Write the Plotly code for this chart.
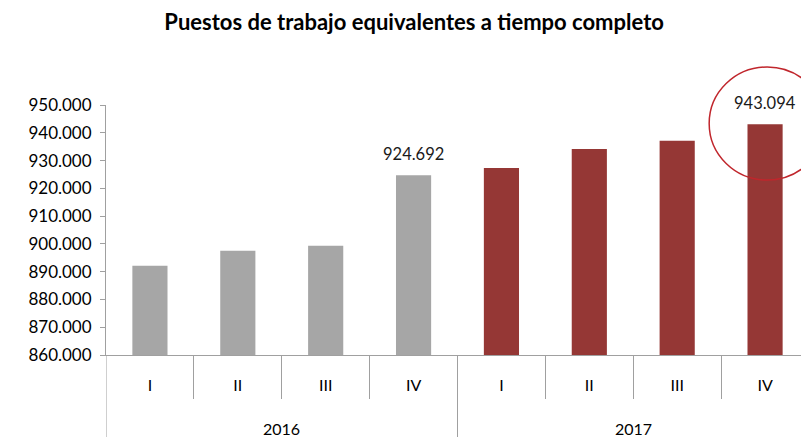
import plotly.graph_objects as go

# datos (puestos equivalentes a tiempo completo)
years = ["2016", "2016", "2016", "2016", "2017", "2017", "2017", "2017"]
quarters = ["I", "II", "III", "IV", "I", "II", "III", "IV"]
values = [892100, 897500, 899300, 924692, 927300, 934200, 937100, 943094]
labeled = [3, 7]  # barras con etiqueta de dato

color_2016 = "#A6A6A6"
color_2017 = "#953735"
axis_color = "#A0A0A0"
FONT = "Lato"

pos = list(range(len(values)))
colors = [color_2016 if y == "2016" else color_2017 for y in years]

fig = go.Figure(
    go.Bar(
        x=pos,
        y=values,
        width=0.4,
        marker=dict(color=colors, line=dict(width=0)),
        hoverinfo="skip",
    )
)

# etiquetas de dato
for i in labeled:
    fig.add_annotation(
        x=pos[i], y=values[i], xref="x", yref="y",
        text=f"{values[i]:,.0f}".replace(",", "."),
        showarrow=False, yanchor="bottom", yshift=9,
        font=dict(family=FONT, size=16.5, color="#1a1a1a"),
    )

# segundo nivel del eje: años y separadores
unique_years = list(dict.fromkeys(years))
for yr in unique_years:
    idx = [i for i, y in enumerate(years) if y == yr]
    fig.add_annotation(
        x=sum(idx) / len(idx), y=-0.292, xref="x", yref="paper",
        text=yr, showarrow=False, yanchor="middle",
        font=dict(family=FONT, size=16, color="black"),
    )
bounds = [-0.5] + [i + 0.5 for i in range(len(years) - 1) if years[i] != years[i + 1]] + [len(years) - 0.5]
for b in bounds:
    fig.add_shape(type="line", xref="x", yref="paper", x0=b, x1=b, y0=0, y1=-0.34,
                  line=dict(color=axis_color, width=1))

fig.add_shape(type="circle", xref="paper", yref="paper",
              x0=0.858, x1=1.023, y0=0.70, y1=1.152,
              line=dict(color="#C0262C", width=1.5))

# la página añade 8 px de margen al cuerpo: los márgenes lo compensan
fig.update_layout(
    width=809, height=437,
    margin=dict(l=98, r=8, t=97, b=90),
    paper_bgcolor="white", plot_bgcolor="white",
    separators=",.",
    showlegend=False,
    title=dict(
        text="<b>Puestos de trabajo equivalentes a tiempo completo</b>",
        x=0.502, xanchor="center", y=0.968, yanchor="middle",
        font=dict(family=FONT, size=22, color="black"),
    ),
    font=dict(family=FONT, size=16, color="black"),
    xaxis=dict(
        range=[-0.5, len(values) - 0.5],
        tickmode="array", tickvals=pos, ticktext=quarters,
        ticks="outside", ticklen=16, tickcolor="rgba(0,0,0,0)",
        minor=dict(tickmode="array", tickvals=[i + 0.5 for i in pos[:-1]],
                   ticks="outside", ticklen=43, tickcolor=axis_color, showgrid=False),
        showline=True, linecolor=axis_color, linewidth=1,
        tickfont=dict(family=FONT, size=16, color="black"),
        showgrid=False, zeroline=False, automargin=False,
    ),
    yaxis=dict(
        range=[860000, 950000], dtick=10000,
        tickformat=",.0f",
        showline=True, linecolor=axis_color, linewidth=1,
        ticks="outside", ticklen=5, tickcolor=axis_color,
        ticklabelstandoff=5,
        showgrid=False, zeroline=False, automargin=False,
        tickfont=dict(family=FONT, size=17, color="black"),
    ),
)

fig.write_html("out.html")
